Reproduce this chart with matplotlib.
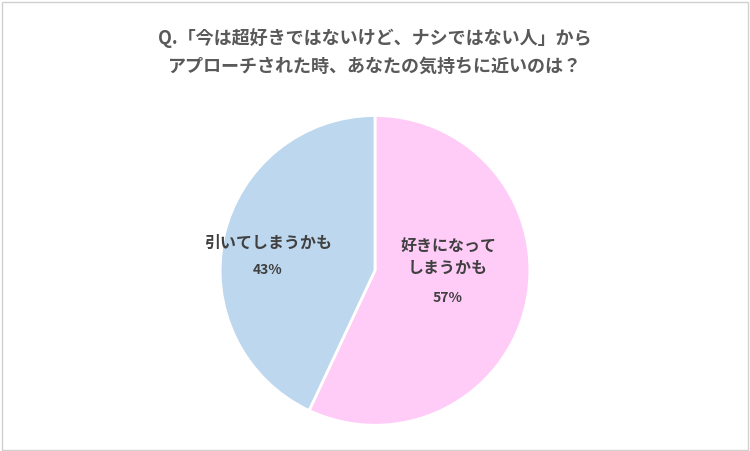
import matplotlib
matplotlib.use("Agg")
import matplotlib.pyplot as plt
from matplotlib.patches import Rectangle

plt.rcParams['font.family'] = ['Noto Sans CJK JP', 'DejaVu Sans']

labels = ["好きになって\nしまうかも", "引いてしまうかも"]
values = [57, 43]
colors = ["#FFCCF8", "#BDD7EE"]
title = "Q.「今は超好きではないけど、ナシではない人」から\nアプローチされた時、あなたの気持ちに近いのは？"

fig = plt.figure(figsize=(7.5, 4.51), dpi=100)
fig.patches.append(Rectangle((0.002, 0.003), 0.995, 0.993, transform=fig.transFigure,
                             fill=False, edgecolor="#D0D0D0", linewidth=1))
ax = fig.add_axes([0.2935, 0.057, 0.413, 0.687])
ax.pie(values, colors=colors, startangle=90, counterclock=False,
       wedgeprops=dict(edgecolor="white", linewidth=2))
ax.set_xlim(-1.0, 1.0)
ax.set_ylim(-1.0, 1.0)
ax.set_aspect('equal')

fig.text(0.5, 0.885, title, ha="center", va="center", fontsize=13,
         fontweight="bold", color="#595959", linespacing=1.55)
fig.text(448/750, 1-257/451, labels[0], ha="center", va="center", fontsize=11.5,
         fontweight="bold", color="#404040", linespacing=1.5)
fig.text(448/750, 1-298/451, f"{values[0]}%", ha="center", va="center", fontsize=10,
         fontweight="bold", color="#404040")
fig.text(268/750, 1-243/451, labels[1], ha="center", va="center", fontsize=11.5,
         fontweight="bold", color="#404040")
fig.text(268/750, 1-270/451, f"{values[1]}%", ha="center", va="center", fontsize=10,
         fontweight="bold", color="#404040")

fig.savefig("out.png", dpi=100, facecolor="white")
